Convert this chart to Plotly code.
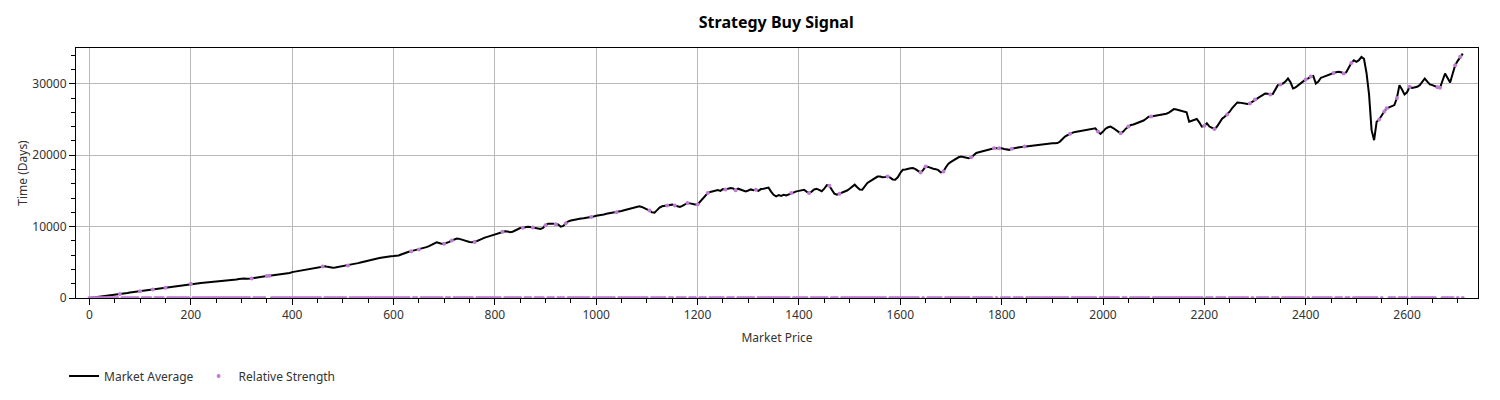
import plotly.graph_objects as go

# Market price axis (x) sampled every 5 units
x_start, x_step = 0, 5
market_average = [
    0,40,90,140,190,240,290,330,380,430,480,520,570,620,660,700,760,810,860,900,
    950,1000,1040,1090,1130,1180,1230,1270,1320,1380,1430,1470,1520,1570,1610,1660,1720,1790,1850,1920,
    2000,2030,2060,2090,2110,2140,2170,2190,2220,2250,2270,2290,2310,2350,2390,2430,2460,2520,2590,2670,
    2740,2720,2700,2690,2720,2800,2870,2950,3030,3060,3080,3120,3160,3200,3260,3310,3370,3410,3440,3500,
    3620,3680,3730,3790,3850,3910,3960,4010,4070,4130,4180,4240,4400,4450,4360,4280,4240,4270,4330,4390,
    4450,4500,4560,4640,4720,4800,4880,4970,5070,5140,5200,5290,5380,5470,5560,5640,5720,5780,5830,5860,
    5870,5890,5950,6090,6240,6380,6470,6560,6650,6720,6790,6880,7000,7120,7260,7420,7650,7800,7700,7580,
    7600,7680,7850,8050,8200,8320,8280,8150,8000,7900,7830,7810,7850,7980,8150,8330,8450,8560,8660,8770,
    8880,9000,9120,9260,9350,9300,9220,9280,9450,9640,9800,9850,9920,9960,9930,9880,9800,9720,9670,9800,
    10200,10400,10420,10380,10330,10290,9980,10100,10450,10740,10860,10950,11060,11100,11140,11170,11210,11260,11330,11420,
    11520,11560,11620,11700,11790,11850,11900,11950,11990,12080,12180,12280,12370,12450,12560,12690,12780,12840,12750,12600,
    12460,12250,12000,11950,12300,12650,12840,12900,12950,13020,13070,12950,12850,12740,12900,13100,13300,13250,13150,13080,
    13100,13500,14000,14400,14700,14850,14950,15070,15100,15000,15250,15200,15300,15390,15350,15100,15300,15150,15000,14930,
    15050,15200,15100,15160,15000,15250,15300,15390,15450,14900,14450,14230,14400,14300,14460,14350,14500,14700,14800,14930,
    15000,15100,15160,14900,14690,14900,15200,15300,15100,14950,15300,15800,15700,15100,14600,14460,14600,14750,14900,15050,
    15300,15600,15860,15500,15200,15160,15700,16100,16320,16550,16800,17000,17020,16900,16950,17020,16850,16600,16550,16900,
    17500,17950,18000,18100,18150,18180,18050,17800,17580,17900,18420,18350,18200,18100,18040,17900,17580,17700,18300,18800,
    19050,19300,19500,19700,19810,19750,19650,19580,19700,20000,20300,20400,20500,20650,20750,20830,20900,20950,20970,20980,
    20950,20850,20750,20740,20900,21000,21050,21110,21150,21200,21250,21300,21350,21300,21400,21450,21480,21530,21550,21600,
    21650,21670,21700,21900,22300,22600,22800,23000,23160,23250,23300,23380,23430,23500,23550,23600,23700,23760,23300,22970,
    23300,23700,23900,23990,23800,23600,23300,23060,23300,23700,24000,24220,24300,24450,24600,24650,24850,25100,25390,25400,
    25450,25500,25550,25650,25710,25800,25950,26150,26450,26400,26300,26200,26180,26000,24690,24800,24950,25060,24600,23990,
    24100,24460,24000,23800,23660,24000,24600,25100,25380,25700,26080,26600,27000,27380,27350,27300,27200,27150,27240,27500,
    27800,28030,28200,28400,28640,28600,28500,28550,29200,29800,29900,30030,30300,30730,30200,29340,29500,29800,30030,30300,
    30600,30750,31000,31100,30030,30300,30830,30950,31100,31250,31430,31500,31600,31660,31600,31430,31600,32300,32900,33290,
    33060,33300,33760,33500,31500,28500,23500,22100,24690,25000,25620,26100,26550,26700,26800,27010,28000,29800,29200,28500,
    28800,29570,29400,29500,29570,29800,30200,30730,30300,29900,29800,29600,29500,29430,30600,31430,30800,30170,31400,32590,
    33200,33760,34220,
]
market_price = [x_start + i * x_step for i in range(len(market_average))]

# Market prices at which a buy signal fires (Relative Strength equals price there, 0 elsewhere)
signal_prices = [
    60,100,125,150,200,320,350,355,460,510,635,650,700,715,760,815,855,875,900,920,940,990,
    1040,1105,1140,1155,1180,1200,1220,1255,1275,1315,1385,1420,1460,1480,1575,1640,1650,1685,
    1740,1785,1795,1820,1845,1935,1990,2035,2050,2095,2200,2220,2245,2290,2300,2330,2350,2400,
    2410,2455,2475,2490,2545,2555,2560,2580,2605,2660,2665,2695,2705,
]
signal_set = set(signal_prices)
relative_strength = [v if xv in signal_set else 0 for xv, v in zip(market_price, market_average)]

x_ticks = [0, 200, 400, 600, 800, 1000, 1200, 1400, 1600, 1800, 2000, 2200, 2400, 2600]
y_ticks = [0, 10000, 20000, 30000]

FONT = "Noto Sans"
PURPLE = "rgb(190,125,210)"
TEXT = "#333333"

fig = go.Figure()
fig.add_trace(go.Scatter(
    x=market_price, y=market_average, mode="lines", name="Market Average",
    line=dict(color="black", width=2),
))
fig.add_trace(go.Scatter(
    x=market_price, y=relative_strength, mode="markers", name="Relative Strength",
    marker=dict(color=PURPLE, size=4, line=dict(width=0)),
))

axis_common = dict(
    showline=True, linecolor="black", linewidth=1, mirror=True,
    showgrid=True, gridcolor="rgb(185,185,185)", gridwidth=1,
    ticks="outside", ticklen=6, tickcolor="black", tickwidth=1,
    zeroline=False, automargin=False,
    tickfont=dict(family=FONT, size=12, color=TEXT),
)

fig.update_xaxes(
    **axis_common,
    range=[-26.6, 2740], tickmode="array", tickvals=x_ticks,
    minor=dict(dtick=50, ticklen=4, tickcolor="black", ticks="outside", showgrid=False),
    title=dict(text="Market Price", font=dict(family=FONT, size=12, color=TEXT), standoff=11),
)
fig.update_yaxes(
    **axis_common,
    range=[0, 35000], tickmode="array", tickvals=y_ticks, tickformat="d",
    minor=dict(dtick=2000, ticklen=4, tickcolor="black", ticks="outside", showgrid=False),
    title=dict(text="Time (Days)", font=dict(family=FONT, size=12, color=TEXT), standoff=2),
)

fig.update_layout(
    width=1500, height=400,
    margin=dict(l=76, r=22, t=48, b=102, autoexpand=False),
    paper_bgcolor="white", plot_bgcolor="white",
    title=dict(text="<b>Strategy Buy Signal</b>", x=0.5175, xanchor="center", y=0.945, yanchor="middle",
               font=dict(family=FONT, size=16, color="black")),
    legend=dict(orientation="h", xref="container", x=0.0427, xanchor="left",
                yref="container", y=0.06, yanchor="middle",
                font=dict(family=FONT, size=12, color=TEXT)),
    showlegend=True,
)

fig.write_html("out.html", config={"displayModeBar": False},
               post_script="document.body.style.margin='0';")
